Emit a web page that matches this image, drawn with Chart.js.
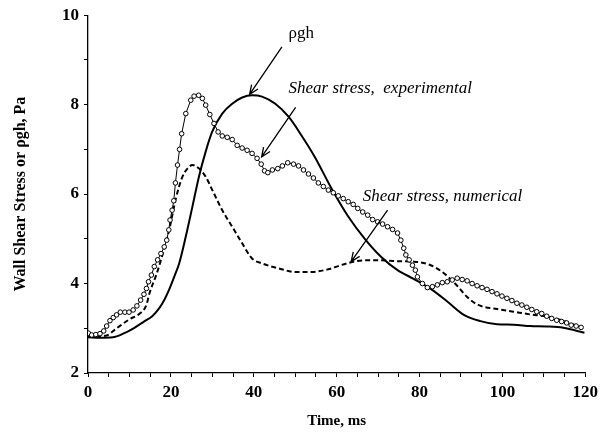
<!DOCTYPE html>
<html>
<head>
<meta charset="utf-8">
<script src="https://cdn.jsdelivr.net/npm/chart.js@4"></script>
<style>
  html, body { margin: 0; padding: 0; background: #fff; }
  #wrap { width: 603px; height: 439px; }
</style>
</head>
<body>
<div id="wrap"><canvas id="chart" width="603" height="439"></canvas></div>
<script>
// experimental shear stress (open circles)
const expTime = [0.1, 0.9, 1.9, 2.9, 3.8, 4.5, 5.3, 6.1, 6.9, 7.8, 8.9, 9.9, 10.9, 11.8, 12.7, 13.5, 14.1, 14.6, 15.3, 16, 16.8, 17.6, 18.4, 19, 19.5, 19.8, 20.3, 20.7, 21.1, 21.6, 22.1, 22.6, 23.6, 24.8, 25.6, 26.7, 27.6, 28.4, 29.4, 30.4, 31.4, 32.4, 33.6, 34.8, 36, 37.2, 38.4, 39.6, 40.8, 41.8, 42.6, 43.4, 44.5, 45.8, 46.9, 48.2, 49.6, 50.8, 52, 53.2, 54.4, 55.6, 56.8, 58, 59.2, 60.4, 61.6, 62.8, 64, 65.1, 66.3, 67.5, 68.7, 69.9, 71.1, 72.3, 73.5, 74.7, 75.5, 76.2, 76.7, 77.5, 78.3, 79, 79.5, 80.7, 81.9, 83.1, 84.3, 85.5, 86.7, 87.9, 89.1, 90.3, 91.5, 92.7, 93.9, 95.1, 96.3, 97.5, 98.7, 99.9, 101.1, 102.3, 103.5, 104.7, 105.9, 107.1, 108.3, 109.5, 110.7, 111.9, 113.1, 114.3, 115.5, 116.6, 117.8, 119];
const expStress = [2.89, 2.85, 2.86, 2.88, 2.94, 3.05, 3.17, 3.24, 3.3, 3.36, 3.36, 3.36, 3.41, 3.5, 3.63, 3.76, 3.89, 4.04, 4.19, 4.38, 4.53, 4.67, 4.82, 4.97, 5.2, 5.42, 5.64, 5.85, 6.25, 6.65, 7.0, 7.35, 7.8, 8.1, 8.19, 8.21, 8.14, 7.99, 7.78, 7.58, 7.39, 7.3, 7.27, 7.22, 7.09, 7.03, 6.98, 6.91, 6.8, 6.67, 6.52, 6.48, 6.54, 6.57, 6.63, 6.7, 6.67, 6.63, 6.54, 6.45, 6.36, 6.25, 6.17, 6.09, 6.03, 5.96, 5.9, 5.83, 5.77, 5.68, 5.6, 5.53, 5.43, 5.38, 5.33, 5.27, 5.21, 5.13, 4.97, 4.79, 4.64, 4.53, 4.41, 4.3, 4.15, 4.0, 3.91, 3.93, 3.97, 4.02, 4.04, 4.08, 4.12, 4.09, 4.06, 4.0, 3.95, 3.91, 3.87, 3.82, 3.77, 3.72, 3.67, 3.62, 3.56, 3.52, 3.47, 3.42, 3.37, 3.33, 3.27, 3.22, 3.18, 3.15, 3.12, 3.07, 3.05, 3.02];

// rho g h (solid)
const rghTime = [0, 3, 6, 8.5, 11, 13.5, 15.5, 17.2, 18.5, 19.6, 21, 22, 23.6, 25.2, 26.8, 28.4, 30, 32.4, 34.8, 37.2, 39.6, 42, 45.2, 48.4, 51.6, 54.8, 58.8, 62.8, 66.8, 70.7, 74.7, 78.7, 82.7, 86.7, 90.7, 94.7, 98.7, 102.7, 106.7, 110.7, 114.7, 119.8];
const rghValue = [2.8, 2.79, 2.8, 2.88, 3.0, 3.15, 3.27, 3.45, 3.65, 3.87, 4.2, 4.45, 5.05, 5.72, 6.4, 6.95, 7.4, 7.8, 8.02, 8.16, 8.21, 8.18, 8.02, 7.73, 7.3, 6.82, 6.12, 5.5, 5.0, 4.6, 4.3, 4.1, 3.88, 3.6, 3.3, 3.16, 3.09, 3.08, 3.05, 3.04, 3.01, 2.9];

// numerical shear stress (dashed)
const numTime = [0, 4.5, 6.9, 10, 12.5, 14, 14.9, 16.5, 18, 19.6, 21.2, 22.8, 24, 25.2, 26.8, 28.4, 30, 32.4, 34.8, 37.2, 39.6, 42, 46, 50, 54, 58, 62.8, 66.8, 70.7, 74.7, 78.7, 82.7, 85.9, 89.1, 91.5, 94, 98.7, 102.7, 106.7, 110.7, 114.7, 119.4];
const numStress = [2.81, 2.84, 3.0, 3.2, 3.33, 3.5, 3.8, 4.2, 4.65, 5.2, 5.9, 6.39, 6.57, 6.65, 6.57, 6.39, 6.09, 5.64, 5.27, 4.9, 4.56, 4.45, 4.34, 4.26, 4.26, 4.32, 4.46, 4.52, 4.52, 4.5, 4.49, 4.41, 4.23, 3.95, 3.7, 3.53, 3.43, 3.37, 3.31, 3.26, 3.17, 3.0];

// labels with arrows, anchored in data units
const notes = [
  { text: 'ρgh', font: '17px "Liberation Serif"', at: [48.4, 9.5], from: [46.8, 9.29], to: [39.0, 8.23] },
  { text: 'Shear stress,  experimental', font: 'italic 17px "Liberation Serif"', at: [48.4, 8.26], from: [50.1, 7.94], to: [41.9, 6.83] },
  { text: 'Shear stress, numerical', font: 'italic 17px "Liberation Serif"', at: [66.3, 5.85], from: [72.3, 5.64], to: [63.5, 4.49] }
];

const pts = (xs, ys) => xs.map((x, i) => ({ x, y: ys[i] }));

const notePlugin = {
  id: 'notes',
  afterDatasetsDraw(chart) {
    const { ctx, scales: { x, y } } = chart;
    ctx.save();
    ctx.fillStyle = '#000';
    ctx.strokeStyle = '#000';
    ctx.lineWidth = 1.3;
    notes.forEach(n => {
      ctx.font = n.font;
      ctx.textBaseline = 'alphabetic';
      ctx.fillText(n.text, x.getPixelForValue(n.at[0]), y.getPixelForValue(n.at[1]));
      const x0 = x.getPixelForValue(n.from[0]), y0 = y.getPixelForValue(n.from[1]);
      const x1 = x.getPixelForValue(n.to[0]), y1 = y.getPixelForValue(n.to[1]);
      ctx.beginPath();
      ctx.moveTo(x0, y0);
      ctx.lineTo(x1, y1);
      const a = Math.atan2(y1 - y0, x1 - x0);
      const len = 10, spread = 0.4;
      ctx.moveTo(x1 - len * Math.cos(a - spread), y1 - len * Math.sin(a - spread));
      ctx.lineTo(x1, y1);
      ctx.lineTo(x1 - len * Math.cos(a + spread), y1 - len * Math.sin(a + spread));
      ctx.stroke();
    });
    ctx.restore();
  }
};

const tickFont = { family: '"Liberation Serif", serif', size: 17, weight: 'bold' };

new Chart(document.getElementById('chart'), {
  type: 'line',
  data: {
    datasets: [
      {
        label: 'Shear stress, experimental',
        data: pts(expTime, expStress),
        borderColor: '#000',
        borderWidth: 1,
        pointRadius: 2.3,
        pointBorderWidth: 1,
        pointBackgroundColor: '#fff',
        pointBorderColor: '#000',
        tension: 0
      },
      {
        label: 'ρgh',
        data: pts(rghTime, rghValue),
        borderColor: '#000',
        borderWidth: 2,
        pointRadius: 0,
        cubicInterpolationMode: 'monotone'
      },
      {
        label: 'Shear stress, numerical',
        data: pts(numTime, numStress),
        borderColor: '#000',
        borderWidth: 2,
        borderDash: [5, 3],
        pointRadius: 0,
        cubicInterpolationMode: 'monotone'
      }
    ]
  },
  options: {
    responsive: false,
    animation: false,
    layout: { padding: { top: 15, right: 14, left: 0, bottom: 0 } },
    plugins: { legend: { display: false }, tooltip: { enabled: false } },
    scales: {
      x: {
        type: 'linear',
        min: 0, max: 120,
        afterFit: s => { s.height = 66; },
        border: { display: true, color: '#000', width: 1.3 },
        grid: { drawOnChartArea: false, tickLength: 4, tickColor: '#000', tickWidth: 1 },
        ticks: {
          stepSize: 5,
          autoSkip: false,
          maxRotation: 0,
          padding: 5,
          color: '#000',
          font: tickFont,
          callback: v => (v % 20 === 0 ? v : '')
        },
        title: { display: true, text: 'Time, ms', color: '#000', font: { family: '"Liberation Serif", serif', size: 15, weight: 'bold' }, padding: { top: 0, bottom: 9 } }
      },
      y: {
        min: 2, max: 10,
        afterFit: s => { s.width = 88; },
        border: { display: true, color: '#000', width: 1.3 },
        grid: { drawOnChartArea: false, tickLength: 4, tickColor: '#000', tickWidth: 1 },
        ticks: {
          stepSize: 1,
          autoSkip: false,
          padding: 5,
          color: '#000',
          font: tickFont,
          callback: v => (v % 2 === 0 ? v : '')
        },
        title: { display: true, text: 'Wall Shear Stress or ρgh, Pa', color: '#000', font: { family: '"Liberation Serif", serif', size: 16, weight: 'bold' }, padding: { top: 11, bottom: 0 } }
      }
    }
  },
  plugins: [notePlugin]
});
</script>
</body>
</html>
